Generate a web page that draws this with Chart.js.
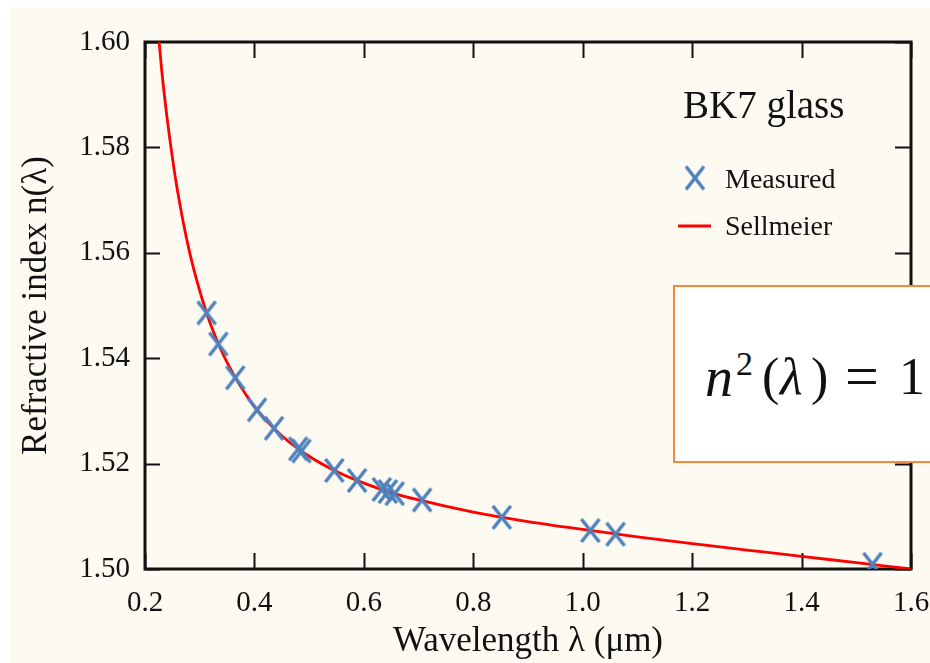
<!DOCTYPE html>
<html>
<head>
<meta charset="utf-8">
<script src="https://cdn.jsdelivr.net/npm/chart.js@4/dist/chart.umd.min.js"></script>
<style>
  html, body { margin:0; padding:0; width:930px; height:663px; overflow:hidden; background:#ffffff; }
  #bg { position:absolute; left:10px; top:7px; right:0; bottom:0; background:#fdfaf2; }
  #c { position:absolute; left:0; top:0; }
  #eqbox { position:absolute; left:673px; top:285px; width:300px; height:174px; border:2.5px solid #f7873a; background:#ffffff; }
  .eq { position:absolute; font-family:"Liberation Serif", serif; line-height:1; color:#111; white-space:nowrap; }
</style>
</head>
<body>
<div id="bg"></div>
<canvas id="c" width="930" height="663"></canvas>
<div id="eqbox"></div>
<span class="eq" style="left:705px; top:349px; font-size:56px; font-style:italic;">n</span>
<span class="eq" style="left:736px; top:347px; font-size:34px;">2</span>
<span class="eq" style="left:762px; top:351px; font-size:52px;">(</span>
<span class="eq" style="left:780px; top:351px; font-size:52px; font-style:italic;">λ</span>
<span class="eq" style="left:811px; top:351px; font-size:52px;">)</span>
<span class="eq" style="left:845px; top:346px; font-size:60px;">=</span>
<span class="eq" style="left:899px; top:351px; font-size:52px;">1</span>
<script>
// ---- data ----
const measuredWavelength = [0.3126, 0.3341, 0.3650, 0.4047, 0.4358, 0.4800, 0.4861, 0.5461, 0.5876, 0.6328, 0.6438, 0.6563, 0.7065, 0.8521, 1.0140, 1.0600, 1.5296];
const measuredIndex      = [1.5486, 1.5427, 1.5363, 1.5302, 1.5267, 1.5228, 1.5224, 1.5187, 1.5168, 1.5151, 1.5147, 1.5143, 1.5131, 1.5098, 1.5073, 1.5066, 1.5009];

const sellmeierWavelength = [0.215, 0.22, 0.23, 0.24, 0.25, 0.26, 0.28, 0.30, 0.32, 0.35, 0.40, 0.45, 0.50, 0.55, 0.60, 0.65, 0.70, 0.80, 0.90, 1.00, 1.10, 1.20, 1.30, 1.40, 1.50, 1.60];
const sellmeierIndex      = [1.6134, 1.6067, 1.5952, 1.5859, 1.5781, 1.5714, 1.5608, 1.5528, 1.5464, 1.5392, 1.5308, 1.5253, 1.5214, 1.5185, 1.5163, 1.5145, 1.5131, 1.5108, 1.5090, 1.5075, 1.5061, 1.5048, 1.5036, 1.5024, 1.5012, 1.5000];

const xTickValues = [0.2, 0.4, 0.6, 0.8, 1.0, 1.2, 1.4, 1.6];
const yTickValues = [1.50, 1.52, 1.54, 1.56, 1.58, 1.60];

const legendTitle = 'BK7 glass';
const seriesNames = ['Measured', 'Sellmeier'];
const xTitle = 'Wavelength λ (μm)';
const yTitle = 'Refractive index n(λ)';

// ---- styling ----
const FONT = '"Liberation Serif", "Times New Roman", serif';
const MARK_COLOR = '#4f81bd';
const LINE_COLOR = '#ff0000';

function makeX(w, h, lw, color) {
  const cv = document.createElement('canvas');
  cv.width = w; cv.height = h;
  const g = cv.getContext('2d');
  g.strokeStyle = color; g.lineWidth = lw; g.lineCap = 'butt';
  g.beginPath();
  g.moveTo(2, 2); g.lineTo(w - 2, h - 2);
  g.moveTo(w - 2, 2); g.lineTo(2, h - 2);
  g.stroke();
  return cv;
}
const xMarker = makeX(22, 27, 3.5, MARK_COLOR);

const framePlugin = {
  id: 'frame',
  beforeDatasetsDraw(chart) {
    const {ctx, chartArea: a, scales} = chart;
    ctx.save();
    ctx.strokeStyle = '#111';
    ctx.lineWidth = 2;
    ctx.beginPath();
    xTickValues.forEach(v => {
      const px = Math.round(scales.x.getPixelForValue(v)) + 0.5;
      ctx.moveTo(px, a.bottom); ctx.lineTo(px, a.bottom - 16);
      ctx.moveTo(px, a.top); ctx.lineTo(px, a.top + 16);
    });
    yTickValues.forEach(v => {
      const py = Math.round(scales.y.getPixelForValue(v)) + 0.5;
      ctx.moveTo(a.left, py); ctx.lineTo(a.left + 15, py);
      ctx.moveTo(a.right, py); ctx.lineTo(a.right - 16, py);
    });
    ctx.stroke();
    ctx.lineWidth = 3;
    ctx.strokeRect(a.left, a.top, a.right - a.left, a.bottom - a.top);
    ctx.restore();
  },
  afterDraw(chart) {
    const ctx = chart.ctx;
    ctx.save();
    ctx.fillStyle = '#111';
    ctx.textAlign = 'left';
    ctx.textBaseline = 'alphabetic';
    ctx.font = '39px ' + FONT;
    ctx.fillText(legendTitle, 683, 118);
    ctx.drawImage(xMarker, 695 - xMarker.width / 2, 178 - xMarker.height / 2);
    ctx.font = '28px ' + FONT;
    ctx.fillText(seriesNames[0], 725, 188);
    ctx.strokeStyle = LINE_COLOR;
    ctx.lineWidth = 3;
    ctx.beginPath();
    ctx.moveTo(678, 226); ctx.lineTo(711, 226);
    ctx.stroke();
    ctx.fillText(seriesNames[1], 725, 235);
    ctx.restore();
  }
};

new Chart(document.getElementById('c'), {
  type: 'scatter',
  data: {
    datasets: [
      {
        label: seriesNames[0],
        data: measuredWavelength.map((x, i) => ({x: x, y: measuredIndex[i]})),
        pointStyle: xMarker,
        pointRadius: 13,
        showLine: false,
        order: 0
      },
      {
        label: seriesNames[1],
        type: 'line',
        data: sellmeierWavelength.map((x, i) => ({x: x, y: sellmeierIndex[i]})),
        borderColor: LINE_COLOR,
        borderWidth: 2.8,
        pointRadius: 0,
        fill: false,
        cubicInterpolationMode: 'monotone',
        clip: 0,
        order: 1
      }
    ]
  },
  options: {
    responsive: false,
    devicePixelRatio: 1,
    animation: false,
    layout: { padding: { left: 0, top: 42, right: 19, bottom: 0 } },
    plugins: { legend: { display: false }, tooltip: { enabled: false } },
    scales: {
      x: {
        type: 'linear', min: 0.2, max: 1.6,
        afterBuildTicks: s => { s.ticks = xTickValues.map(v => ({value: v})); },
        ticks: { callback: v => Number(v).toFixed(1), font: {family: FONT, size: 29}, color: '#111', padding: 17, maxRotation: 0, autoSkip: false },
        grid: { display: false, drawTicks: false },
        border: { display: false },
        title: { display: true, text: xTitle, font: {family: FONT, size: 35}, color: '#111', padding: {top: 0, bottom: 0} },
        afterFit: s => { s.height = 94; s.paddingLeft = 0; s.paddingRight = 0; }
      },
      y: {
        type: 'linear', min: 1.5, max: 1.6,
        afterBuildTicks: s => { s.ticks = yTickValues.map(v => ({value: v})); },
        ticks: { callback: v => Number(v).toFixed(2), font: {family: FONT, size: 29}, color: '#111', padding: 15, autoSkip: false },
        grid: { display: false, drawTicks: false },
        border: { display: false },
        title: { display: true, text: yTitle, font: {family: FONT, size: 35}, color: '#111', padding: {top: 16, bottom: 0} },
        afterFit: s => { s.width = 145; s.paddingTop = 0; s.paddingBottom = 0; }
      }
    }
  },
  plugins: [framePlugin]
});
</script>
</body>
</html>
